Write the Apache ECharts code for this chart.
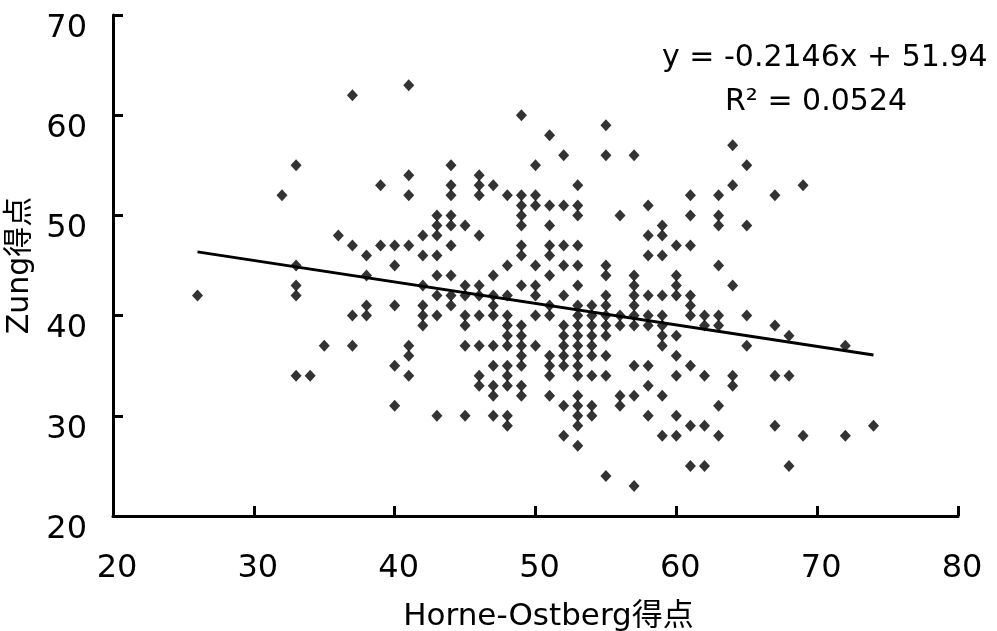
<!DOCTYPE html>
<html>
<head>
<meta charset="utf-8">
<script src="https://cdn.jsdelivr.net/npm/echarts@6/dist/echarts.min.js"></script>
<style>
  html, body { margin: 0; padding: 0; background: #fff; }
  #chart { width: 997px; height: 631px; }
</style>
</head>
<body>
<div id="chart"></div>
<script>
// Horne-Ostberg score columns and the Zung scores found in each column
const hoColumns = [26, 32, 33, 34, 35, 36, 37, 38, 39, 40, 41, 42, 43, 44, 45, 46, 47, 48, 49, 50,
  51, 52, 53, 54, 55, 56, 57, 58, 59, 60, 61, 62, 63, 64, 65, 67, 68, 69, 72, 74];
const zungColumns = [
  [42],
  [52],
  [55, 45, 43, 42, 34],
  [34],
  [37],
  [48],
  [62, 47, 40, 37],
  [46, 44, 41, 40],
  [53, 47],
  [47, 45, 41, 35, 31],
  [63, 54, 52, 47, 37, 36, 34],
  [48, 46, 43, 41, 40, 39],
  [50, 49, 48, 46, 44, 42, 40, 30],
  [55, 53, 52, 50, 49, 47, 44, 42, 41],
  [49, 43, 42, 40, 39, 37, 30],
  [54, 53, 52, 48, 43, 42, 40, 37, 34, 33],
  [53, 44, 42, 41, 40, 37, 35, 33, 32, 30],
  [52, 45, 42, 40, 39, 38, 37, 35, 34, 33, 30, 29],
  [60, 52, 51, 50, 49, 47, 46, 43, 39, 38, 37, 36, 35, 33, 32],
  [55, 52, 51, 45, 43, 42, 40, 37],
  [58, 51, 49, 47, 46, 44, 41, 40, 36, 35, 34, 32],
  [56, 51, 47, 45, 42, 39, 38, 37, 36, 35, 31, 28],
  [53, 51, 50, 47, 45, 43, 41, 40, 39, 38, 37, 36, 35, 34, 32, 31, 30, 29, 27],
  [41, 40, 39, 38, 37, 36, 34, 31, 30],
  [59, 56, 45, 44, 42, 41, 40, 39, 38, 36, 34, 24],
  [50, 40, 39, 32, 31],
  [56, 44, 43, 42, 41, 40, 39, 35, 32, 23],
  [51, 48, 46, 42, 40, 39, 35, 33, 30],
  [49, 48, 46, 42, 40, 39, 38, 37, 32, 28],
  [47, 44, 43, 42, 38, 36, 34, 30, 28],
  [52, 50, 47, 42, 41, 40, 35, 29, 25],
  [40, 39, 34, 29, 25],
  [52, 50, 49, 45, 40, 39, 31, 28],
  [57, 53, 43, 34, 33],
  [55, 49, 40, 37],
  [52, 39, 34, 29],
  [38, 34, 25],
  [53, 28],
  [37, 28],
  [29]
];

// linear trend as printed on the chart
const trendSlope = -0.2146;
const trendIntercept = 51.94;
const trendRange = [26, 74];
const equationText = 'y = -0.2146x + 51.94';
const r2Text = 'R² = 0.0524';

const font = "'DejaVu Sans', 'Noto Sans CJK SC', sans-serif";

let points = [];
for (let i = 0; i < hoColumns.length; i++) {
  for (let j = 0; j < zungColumns[i].length; j++) {
    points.push([hoColumns[i], zungColumns[i][j]]);
  }
}
let trend = trendRange.map(x => [x, trendIntercept + trendSlope * x]);

let myChart = echarts.init(document.getElementById('chart'));
myChart.setOption({
  animation: false,
  backgroundColor: '#fff',
  grid: {
    left: 113,
    right: 39,
    top: 15,
    bottom: 115,
    containLabel: false,
    outerBoundsMode: 'none'
  },
  xAxis: {
    type: 'value',
    min: 20,
    max: 80,
    interval: 10,
    name: 'Horne-Ostberg得点',
    nameLocation: 'middle',
    nameGap: 85,
    nameTextStyle: { color: '#000', fontSize: 31, fontFamily: font, padding: [0, 0, 0, 26] },
    axisLine: { lineStyle: { color: '#000', width: 3 } },
    axisTick: { inside: true, length: 10, lineStyle: { color: '#000', width: 3 } },
    axisLabel: { color: '#000', fontSize: 32, fontFamily: font, margin: 37, padding: [0, 0, 0, 8] },
    splitLine: { show: false }
  },
  yAxis: {
    type: 'value',
    min: 20,
    max: 70,
    interval: 10,
    name: 'Zung得点',
    nameLocation: 'middle',
    nameGap: 73,
    nameTextStyle: { color: '#000', fontSize: 30, fontFamily: font },
    axisLine: { lineStyle: { color: '#000', width: 3 } },
    axisTick: { inside: true, length: 10, lineStyle: { color: '#000', width: 3 } },
    axisLabel: {
      color: '#000', fontSize: 32, fontFamily: font, margin: 26, lineHeight: 27,
      // labels sit a little below their ticks in the original
      formatter: v => '\n' + v
    },
    splitLine: { show: false }
  },
  graphic: [
    {
      type: 'text',
      left: 662,
      top: 43,
      style: { text: equationText, fill: '#000', fontSize: 30, fontFamily: font }
    },
    {
      type: 'text',
      left: 725,
      top: 87,
      style: { text: r2Text, fill: '#000', fontSize: 30, fontFamily: font }
    }
  ],
  series: [
    {
      name: 'points',
      type: 'scatter',
      symbol: 'diamond',
      symbolSize: [11, 12],
      itemStyle: { color: '#000' },
      data: points,
      z: 2
    },
    {
      name: 'trend',
      type: 'line',
      showSymbol: false,
      symbol: 'none',
      lineStyle: { color: '#000', width: 3 },
      data: trend,
      z: 3
    }
  ]
});
</script>
</body>
</html>
